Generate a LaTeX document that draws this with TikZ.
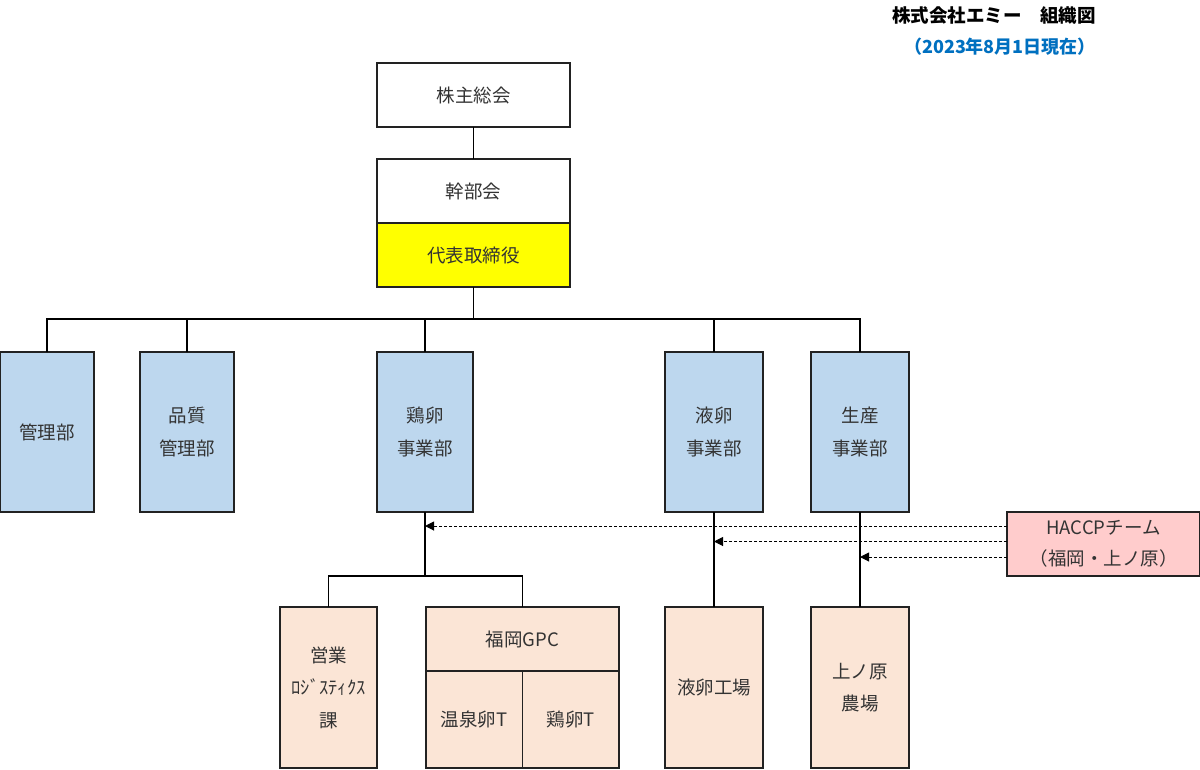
\documentclass[tikz,border=0pt]{standalone}
\usepackage{fontspec}
\setmainfont{Noto Sans CJK JP}
\newfontfamily\cjk{Noto Sans CJK JP}
\usetikzlibrary{arrows.meta}
\definecolor{lblue}{HTML}{BDD7EE}
\definecolor{peach}{HTML}{FBE5D6}
\definecolor{pinkb}{HTML}{FFCCCC}
\definecolor{yel}{HTML}{FFFF00}
\definecolor{dblue}{HTML}{0070C0}
\definecolor{txt}{HTML}{333333}
\definecolor{edge}{HTML}{222222}
\tikzset{
  box/.style={draw=edge, line width=1.9pt, rectangle, outer sep=0pt, inner sep=0pt,
    align=center, text=txt, font=\cjk\fontsize{18.5}{32.5}\selectfont},
  wbox/.style={box, fill=white},
  ybox/.style={box, fill=yel},
  bbox/.style={box, fill=lblue},
  pbox/.style={box, fill=peach},
  hbox/.style={box, fill=pinkb},
  conn/.style={draw=black, line width=1.8pt},
  dasharrow/.style={draw=black, line width=1pt, dash pattern=on 3pt off 2pt,
    -{Triangle[length=9pt,width=9pt]}},
}
\begin{document}
\begin{tikzpicture}[x=1pt,y=-1pt]
\useasboundingbox (0,0) rectangle (1200,769);
\fill[white] (0,0) rectangle (1200,769);

% title
\node (title) at (994,16) {\cjk\bfseries\fontsize{18.5}{20}\selectfont 株式会社エミー　組織図};
\node[text=dblue] (date) at (1000,47) {\cjk\bfseries\fontsize{18}{20}\selectfont （2023年8月1日現在）};

% top
\node[wbox, minimum width=193pt, minimum height=64pt] (sh) at (473.5,95) {株主総会};
\node[wbox, minimum width=193pt, minimum height=64pt] (kanbu) at (473.5,191) {幹部会};
\node[ybox, minimum width=193pt, minimum height=64pt] (daihyo) at (473.5,255) {代表取締役};

% second row
\node[bbox, minimum width=94pt, minimum height=160pt] (kanri) at (47,432) {管理部};
\node[bbox, minimum width=94pt, minimum height=160pt] (hinshitsu) at (187,432) {品質\\管理部};
\node[bbox, minimum width=96pt, minimum height=160pt] (keiran) at (425,432) {鶏卵\\事業部};
\node[bbox, minimum width=98pt, minimum height=160pt] (ekiran) at (714,432) {液卵\\事業部};
\node[bbox, minimum width=98pt, minimum height=160pt] (seisan) at (860,432) {生産\\事業部};

% bottom row
\node[pbox, minimum width=97pt, minimum height=161pt] (eigyo) at (328.5,687.5) {営業\\ﾛｼﾞｽﾃｨｸｽ\\課};
\node[pbox, minimum width=193pt, minimum height=64pt] (gpc) at (522.5,639) {福岡GPC};
\node[pbox, minimum width=96.5pt, minimum height=97pt] (onsen) at (474.25,719.5) {温泉卵T};
\node[pbox, minimum width=96.5pt, minimum height=97pt] (keiranT) at (570.75,719.5) {鶏卵T};
\node[pbox, minimum width=98pt, minimum height=161pt] (kojo) at (714,687.5) {液卵工場};
\node[pbox, minimum width=98pt, minimum height=161pt] (noujou) at (860,687.5) {上ノ原\\農場};

% HACCP
\node[hbox, minimum width=193pt, minimum height=64pt, font=\cjk\fontsize{18.5}{31}\selectfont] (haccp) at (1103.5,544) {HACCPチーム\\（福岡・上ノ原）};

% connectors
\coordinate (bus) at (473.5,319);
\coordinate (bus2) at (425,576);
\draw[conn] (sh.south) -- (kanbu.north);
\draw[conn] (daihyo.south) -- (bus);
\draw[conn] (kanri.north) |- (bus);
\draw[conn] (hinshitsu.north) |- (bus);
\draw[conn] (keiran.north) |- (bus);
\draw[conn] (ekiran.north) |- (bus);
\draw[conn] (seisan.north) |- (bus);
\draw[conn] (keiran.south) -- (bus2);
\draw[conn] (eigyo.north) |- (bus2);
\draw[conn] (gpc.north) |- (bus2);
\draw[conn] (ekiran.south) -- (kojo.north);
\draw[conn] (seisan.south) -- (noujou.north);

% dashed arrows
\coordinate (h1) at (1007,526);
\coordinate (h2) at (1007,541.5);
\coordinate (h3) at (1007,557);
\coordinate (t1) at (425,526);
\coordinate (t2) at (714,541.5);
\coordinate (t3) at (860,557);
\draw[dasharrow] (h1) -- (t1);
\draw[dasharrow] (h2) -- (t2);
\draw[dasharrow] (h3) -- (t3);
\end{tikzpicture}
\end{document}
